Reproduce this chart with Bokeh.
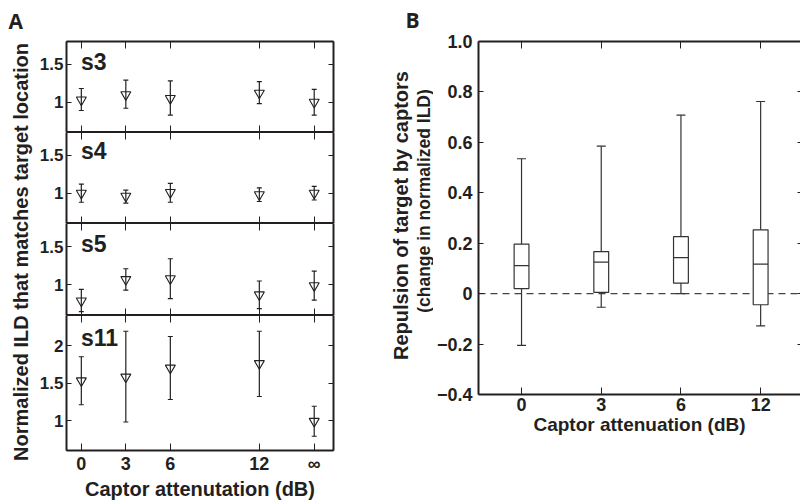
import numpy as np
from math import pi
from bokeh.plotting import figure
from bokeh.models import (Range1d, LinearAxis, FixedTicker, Whisker, TeeHead,
                          ColumnDataSource, Label, Span, CustomLabelingPolicy)
from bokeh.layouts import row, column
from bokeh.embed import file_html
from bokeh.resources import INLINE

# ---------------- data: panel A ----------------
x_pos_a = [0, 3, 6, 12, 15.7]
x_lab_a = ["0", "3", "6", "12", "\u221e"]

s3_mean = [1.03, 1.10, 1.05, 1.12, 1.00]
s3_lo = [0.89, 0.92, 0.83, 0.98, 0.83]
s3_hi = [1.18, 1.29, 1.28, 1.27, 1.17]

s4_mean = [1.00, 0.96, 1.01, 0.98, 1.00]
s4_lo = [0.88, 0.87, 0.88, 0.89, 0.91]
s4_hi = [1.12, 1.04, 1.13, 1.07, 1.09]

s5_mean = [0.79, 1.07, 1.08, 0.87, 0.99]
s5_lo = [0.65, 0.93, 0.82, 0.69, 0.80]
s5_hi = [0.94, 1.21, 1.34, 1.05, 1.18]

s11_mean = [1.53, 1.58, 1.70, 1.76, 0.99]
s11_lo = [1.21, 0.98, 1.28, 1.32, 0.79]
s11_hi = [1.85, 2.19, 2.12, 2.19, 1.19]

# ---------------- data: panel B ----------------
b_x = [1, 2, 3, 4]
b_lab = ["0", "3", "6", "12"]
b_min = [-0.205, -0.054, 0.0, -0.128]
b_q1 = [0.020, 0.005, 0.042, -0.044]
b_med = [0.111, 0.125, 0.143, 0.117]
b_q3 = [0.196, 0.167, 0.226, 0.253]
b_max = [0.535, 0.585, 0.708, 0.762]
b_yticks = [-0.4, -0.2, 0, 0.2, 0.4, 0.6, 0.8, 1]
b_ylabs = ["\u22120.4", "\u22120.2", "0", "0.2", "0.4", "0.6", "0.8", "1.0"]

INK = "#231f20"
LINE = "#333333"
FONT = "Liberation Sans"
MID = 0.35  # distance (em) from the text middle to its baseline

NO_LABELS = "try { for (let i = 0; i < indices.size; i++) { indices.unset(i) } } catch (e) {} return indices"


def style_axis(ax, ticks, labels=None, tick_in=5, size="17px", standoff=3):
    ax.ticker = FixedTicker(ticks=ticks)
    ax.major_tick_in = tick_in
    ax.major_tick_out = 0
    ax.minor_tick_line_color = None
    ax.axis_line_color = None
    ax.major_tick_line_color = INK
    ax.major_tick_line_width = 1
    if labels is not None:
        ax.major_label_overrides = {t: l for t, l in zip(ticks, labels)}
        ax.major_label_text_font = FONT
        ax.major_label_text_font_style = "bold"
        ax.major_label_text_font_size = size
        ax.major_label_text_color = INK
        ax.major_label_standoff = standoff
    else:
        ax.major_label_text_font_size = "0px"
        ax.major_label_standoff = 0
        ax.major_label_policy = CustomLabelingPolicy(code=NO_LABELS)


def base_fig(**kw):
    p = figure(tools="", toolbar_location=None, output_backend="svg", **kw)
    p.background_fill_color = "white"
    p.border_fill_color = "white"
    return p


def text_label(x, y, text, size, angle=0.0, font=FONT, align="left"):
    return Label(x=x, y=y, text=text, angle=angle, text_font=font,
                 text_font_style="bold", text_font_size="%gpx" % size,
                 text_color=INK, text_baseline="middle", text_align=align)


# ---------------- panel A ----------------
A_XR = (-1, 17)


def make_a(name, mean, lo, hi, yr, yticks, frame_h, top, bottom, first, last, lab_off):
    p = base_fig(width=307, height=frame_h + top + bottom,
                 x_range=Range1d(*A_XR), y_range=Range1d(*yr),
                 min_border_left=32, min_border_right=8,
                 min_border_top=top, min_border_bottom=bottom)
    p.xgrid.grid_line_color = None
    p.ygrid.grid_line_color = None
    p.outline_line_color = INK
    p.outline_line_width = 1

    below = p.below[0]
    left = p.left[0]
    above = LinearAxis()
    right = LinearAxis()
    p.add_layout(above, "above")
    p.add_layout(right, "right")

    style_axis(below, x_pos_a, x_lab_a if last else None,
               tick_in=7, size="18px", standoff=3)
    style_axis(above, x_pos_a, None, tick_in=7)
    style_axis(left, yticks, [("%g" % t) for t in yticks],
               tick_in=5, size="17px", standoff=3)
    style_axis(right, yticks, None, tick_in=5)
    edges = [left, right] + ([above] if first else []) + ([below] if last else [])
    for ax in edges:
        ax.axis_line_color = INK
        ax.axis_line_width = 2

    if last:
        below.axis_label = "Captor attenutation (dB)"
        below.axis_label_text_font = FONT
        below.axis_label_text_font_style = "bold"
        below.axis_label_text_font_size = "20px"
        below.axis_label_text_color = INK
        below.axis_label_standoff = 1

    src = ColumnDataSource(dict(x=x_pos_a, m=mean, lo=lo, hi=hi))
    p.add_layout(Whisker(base="x", upper="hi", lower="lo", source=src,
                         line_color=INK, line_width=1.2,
                         upper_head=TeeHead(size=5, line_color=INK, line_width=1.2),
                         lower_head=TeeHead(size=5, line_color=INK, line_width=1.2)))
    p.scatter("x", "m", source=src, marker="inverted_triangle", size=10,
              fill_color=None, line_color=INK, line_width=1.1)

    ppu = frame_h / (yr[1] - yr[0])
    p.add_layout(text_label(-0.03, yr[1] - (lab_off - MID * 23) / ppu, name, 23))
    return p


s3 = make_a("s3", s3_mean, s3_lo, s3_hi, (0.6, 1.8), [1, 1.5], 91, 41, 0, True, False, 29)
s4 = make_a("s4", s4_mean, s4_lo, s4_hi, (0.6, 1.8), [1, 1.5], 91, 0, 0, False, False, 26.5)
s5 = make_a("s5", s5_mean, s5_lo, s5_hi, (0.6, 1.8), [1, 1.5], 92, 0, 0, False, False, 28.5)
s11 = make_a("s11", s11_mean, s11_lo, s11_hi, (0.6, 2.4), [1, 1.5, 2], 139, 0, 48, False, True, 31)

# label strip of panel A (canvas pixel coordinates, y counted from the bottom)
H = 502
pl = base_fig(width=34, height=H, x_range=Range1d(0, 34), y_range=Range1d(0, H),
              min_border=0, x_axis_type=None, y_axis_type=None)
pl.outline_line_color = None
pl.add_layout(text_label(8, H - (28 - MID * 21), "A", 21, font="Open Sans"))
pl.add_layout(text_label(27.5 - MID * 20, H - 251.5,
                         "Normalized ILD that matches target location", 20,
                         angle=pi / 2, align="center"))

# label strip of panel B (starts at page x 341)
pbl = base_fig(width=92, height=H, x_range=Range1d(0, 92), y_range=Range1d(0, H),
               min_border=0, x_axis_type=None, y_axis_type=None)
pbl.outline_line_color = None
pbl.add_layout(text_label(64, H - (27 - MID * 21), "B", 21, font="Open Sans"))
pbl.add_layout(text_label(407.5 - 341 - MID * 20, H - 215,
                          "Repulsion of target by captors", 20,
                          angle=pi / 2, align="center"))
pbl.add_layout(text_label(430 - 341 - MID * 17.5, H - 200.5,
                          "(change in normalized ILD)", 17.5,
                          angle=pi / 2, align="center"))

# ---------------- panel B ----------------
pb = base_fig(width=367, height=H, x_range=Range1d(0.46, 4.5), y_range=Range1d(-0.4, 1.0),
              min_border_left=42, min_border_right=0,
              min_border_top=41, min_border_bottom=108)
pb.xgrid.grid_line_color = None
pb.ygrid.grid_line_color = None
pb.outline_line_color = None

bb = pb.below[0]
bl = pb.left[0]
ab = LinearAxis()
rb = LinearAxis()
pb.add_layout(ab, "above")
pb.add_layout(rb, "right")
style_axis(bb, b_x, b_lab, tick_in=7, size="18px", standoff=3)
style_axis(ab, b_x, None, tick_in=7)
style_axis(bl, b_yticks, b_ylabs, tick_in=5, size="18px", standoff=6)
style_axis(rb, b_yticks, None, tick_in=3)
for ax in (bb, ab, bl):
    ax.axis_line_color = INK
    ax.axis_line_width = 2
bb.axis_label = "Captor attenuation (dB)"
bb.axis_label_text_font = FONT
bb.axis_label_text_font_style = "bold"
bb.axis_label_text_font_size = "19px"
bb.axis_label_text_color = INK
bb.axis_label_standoff = 0

pb.add_layout(Span(location=0, dimension="width", line_color="#444444",
                   line_width=1.2, line_dash="7 5", level="underlay"))

bsrc = ColumnDataSource(dict(x=b_x, mn=b_min, q1=b_q1, md=b_med, q3=b_q3, mx=b_max,
                             x0=np.array(b_x) - 0.093, x1=np.array(b_x) + 0.093))
pb.add_layout(Whisker(base="x", lower="q3", upper="mx", source=bsrc,
                      line_color=LINE, line_width=1.2, lower_head=None,
                      upper_head=TeeHead(size=9, line_color=LINE, line_width=1.2)))
pb.add_layout(Whisker(base="x", lower="mn", upper="q1", source=bsrc,
                      line_color=LINE, line_width=1.2, upper_head=None,
                      lower_head=TeeHead(size=9, line_color=LINE, line_width=1.2)))
pb.vbar(x="x", width=0.186, bottom="q1", top="q3", source=bsrc,
        fill_color="white", line_color=LINE, line_width=1.2)
pb.segment(x0="x0", x1="x1", y0="md", y1="md", source=bsrc,
           line_color=LINE, line_width=1.2)

layout = row(column(pl), column(s3, s4, s5, s11), column(pbl), column(pb))
open("out.html", "w").write(file_html(layout, INLINE))
